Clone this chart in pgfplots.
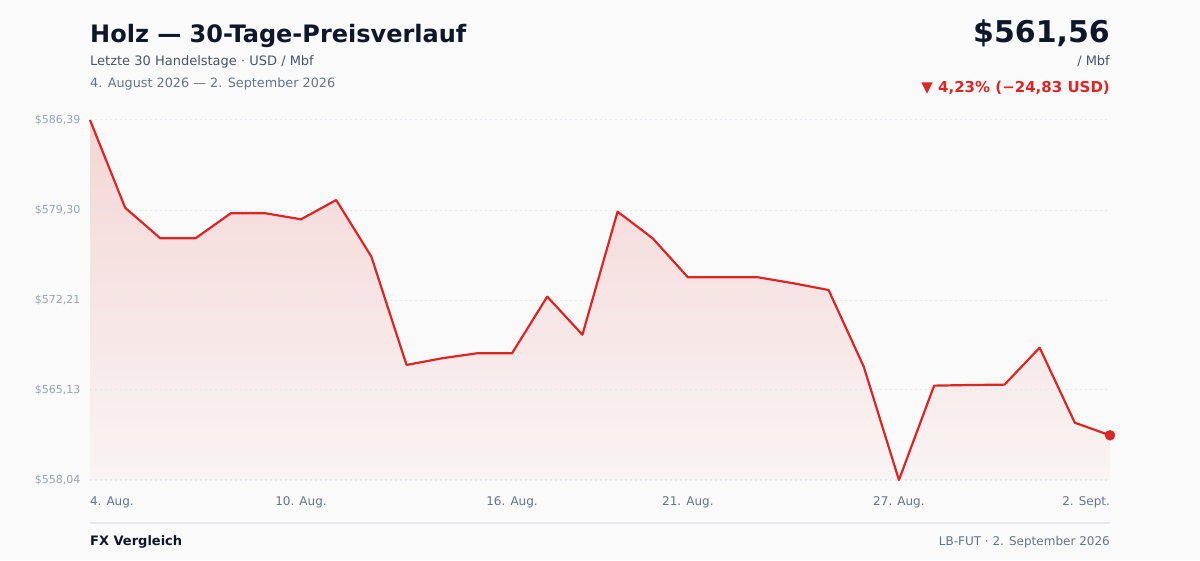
\documentclass[border=0pt]{standalone}
\usepackage{fontspec}
\setmainfont{DejaVu Sans}
\usepackage{pgfplots}
\usepackage{pgfplotstable}
\pgfplotsset{compat=1.18}

\definecolor{bg}{HTML}{FAFAFA}
\definecolor{ink}{HTML}{0F172A}
\definecolor{sub}{HTML}{475569}
\definecolor{muted}{HTML}{64748B}
\definecolor{faint}{HTML}{94A3B8}
\definecolor{gridc}{HTML}{E2E8F0}
\definecolor{rulec}{HTML}{E5E7EB}
\definecolor{linec}{HTML}{DC2626}

% Holz, Schlusskurse der letzten 30 Handelstage (USD / Mbf)
\pgfplotstableread{
i price
0 586.39
1 579.48
2 577.07
3 577.07
4 579.04
5 579.04
6 578.57
7 580.09
8 575.63
9 567.10
10 567.62
11 568.02
12 568.02
13 572.48
14 569.48
15 579.17
16 577.07
17 574.00
18 574.00
19 574.00
20 573.53
21 573.00
22 566.96
23 558.04
24 565.47
25 565.52
26 565.55
27 568.46
28 562.55
29 561.56
}\prices

\begin{document}
\begin{tikzpicture}
\fill[bg] (0,0) rectangle (1200pt,560pt);

\begin{axis}[
    at={(90pt,80pt)}, anchor=south west,
    width=1020pt, height=360pt, scale only axis,
    xmin=0, xmax=29, ymin=558.04, ymax=586.39,
    axis line style={draw=none},
    major tick length=0pt,
    ytick={558.04,565.13,572.21,579.30,586.39},
    yticklabels={\$558{,}04,\$565{,}13,\$572{,}21,\$579{,}30,\$586{,}39},
    xtick={0,6,12,17,23,29},
    xticklabels={\makebox[0pt][l]{4. Aug.},10. Aug.,16. Aug.,21. Aug.,27. Aug.,\makebox[0pt][r]{2. Sept.}},
    yticklabel style={font=\fontsize{11}{13}\selectfont, text=faint, xshift=-6pt},
    xticklabel style={font=\fontsize{12}{14}\selectfont, text=muted, yshift=-13pt},
    clip=false,
]
    % Flaeche unter der Kurve
    \addplot[draw=none, top color=linec!17!bg, bottom color=linec!3!bg]
        table[x=i, y=price] {\prices}
        -- (axis cs:29,558.04) -- (axis cs:0,558.04) -- cycle;
    % Gitterlinien ueber der Flaeche, unter der Linie
    \foreach \g in {558.04,565.13,572.21,579.30,586.39}{
        \edef\tmp{\noexpand\draw[gridc, line width=1pt, dash pattern=on 2pt off 3pt]
            (axis cs:0,\g) -- (axis cs:29,\g);}\tmp
    }
    % Kursverlauf
    \addplot[linec, line width=2.2pt, line join=round] table[x=i, y=price] {\prices};
    % letzter Kurs
    \addplot[only marks, mark=*, mark size=5pt, color=linec] coordinates {(29,561.56)};
\end{axis}

% Kopfzeile
\node[anchor=base west, inner sep=0, text=ink, font=\fontsize{24}{28}\selectfont\bfseries]
    at (90pt,517pt) {Holz — 30-Tage-Preisverlauf};
\node[anchor=base west, inner sep=0, text=sub, font=\fontsize{13}{15}\selectfont]
    at (90pt,494pt) {Letzte 30 Handelstage · USD / Mbf};
\node[anchor=base west, inner sep=0, text=muted, font=\fontsize{12.8}{15}\selectfont]
    at (90pt,472pt) {4. August 2026 — 2. September 2026};

\node[anchor=base east, inner sep=0, text=ink, font=\fontsize{30}{34}\selectfont\bfseries]
    at (1110pt,517pt) {\$561,56};
\node[anchor=base east, inner sep=0, text=sub, font=\fontsize{13}{15}\selectfont]
    at (1110pt,494pt) {/ Mbf};
\node[anchor=base east, inner sep=0, text=linec, font=\fontsize{15}{18}\selectfont\bfseries]
    at (1110pt,467pt) {▼ 4,23\% (−24,83 USD)};

% Fusszeile
\draw[rulec, line width=1.5pt] (90pt,37pt) -- (1110pt,37pt);
\node[anchor=base west, inner sep=0, text=ink, font=\fontsize{13}{15}\selectfont\bfseries]
    at (90pt,15pt) {FX Vergleich};
\node[anchor=base east, inner sep=0, text=muted, font=\fontsize{12}{14}\selectfont]
    at (1110pt,15pt) {LB-FUT · 2. September 2026};
\end{tikzpicture}
\end{document}
